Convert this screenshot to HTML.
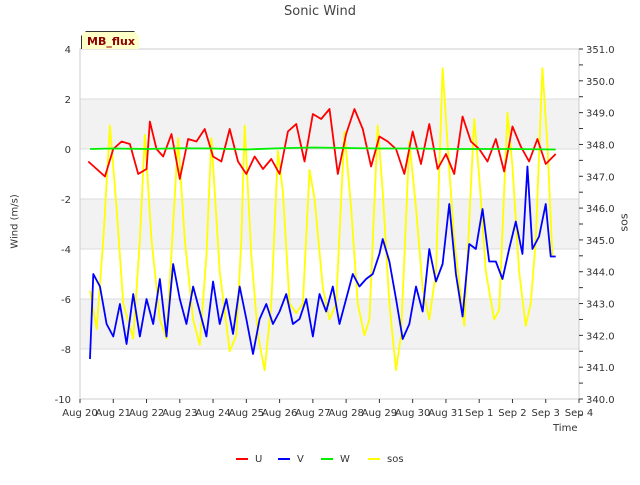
<!DOCTYPE html>
<html><head><meta charset="utf-8"><style>
body{margin:0;background:#fff;font-family:"Liberation Sans",sans-serif}
svg text{font-family:"DejaVu Sans","Liberation Sans",sans-serif}
</style></head><body>
<svg id="c" width="640" height="480" xmlns="http://www.w3.org/2000/svg"></svg>
<script>
const xTickLabels=["Aug 20","Aug 21","Aug 22","Aug 23","Aug 24","Aug 25","Aug 26","Aug 27","Aug 28","Aug 29","Aug 30","Aug 31","Sep 1","Sep 2","Sep 3","Sep 4"];
const yLeftTicks=[4,2,0,-2,-4,-6,-8,-10];
const yRightTicks=[351,350,349,348,347,346,345,344,343,342,341,340];
const uDays=[0.25,0.5,0.75,1.0,1.25,1.5,1.75,2.0,2.1,2.3,2.5,2.75,3.0,3.25,3.5,3.75,4.0,4.25,4.5,4.75,5.0,5.25,5.5,5.75,6.0,6.25,6.5,6.75,7.0,7.25,7.5,7.75,8.0,8.25,8.5,8.75,9.0,9.25,9.5,9.75,10.0,10.25,10.5,10.75,11.0,11.25,11.5,11.75,12.0,12.25,12.5,12.75,13.0,13.25,13.5,13.75,14.0,14.3];
const uValues=[-0.5,-0.8,-1.1,0,0.3,0.2,-1.0,-0.8,1.1,0,-0.3,0.6,-1.2,0.4,0.3,0.8,-0.3,-0.5,0.8,-0.5,-1.0,-0.3,-0.8,-0.4,-1.0,0.7,1.0,-0.5,1.4,1.2,1.6,-1.0,0.6,1.6,0.8,-0.7,0.5,0.3,0,-1.0,0.7,-0.6,1.0,-0.8,-0.2,-1.0,1.3,0.3,0,-0.5,0.4,-0.9,0.9,0.1,-0.5,0.4,-0.6,-0.2];
const vDays=[0.3,0.4,0.6,0.8,1.0,1.2,1.4,1.6,1.8,2.0,2.2,2.4,2.6,2.8,3.0,3.2,3.4,3.6,3.8,4.0,4.2,4.4,4.6,4.8,5.0,5.2,5.4,5.6,5.8,6.0,6.2,6.4,6.6,6.8,7.0,7.2,7.4,7.6,7.8,8.0,8.2,8.4,8.6,8.8,9.0,9.1,9.3,9.5,9.7,9.9,10.1,10.3,10.5,10.7,10.9,11.1,11.3,11.5,11.7,11.9,12.1,12.3,12.5,12.7,12.9,13.1,13.3,13.45,13.6,13.8,14.0,14.15,14.3];
const vValues=[-8.4,-5,-5.5,-7,-7.5,-6.2,-7.8,-5.8,-7.5,-6,-7,-5.2,-7.5,-4.6,-6,-7,-5.5,-6.5,-7.5,-5.3,-7,-6,-7.4,-5.5,-6.8,-8.2,-6.8,-6.2,-7,-6.5,-5.8,-7,-6.8,-6.0,-7.5,-5.8,-6.5,-5.5,-7,-6,-5,-5.5,-5.2,-5.0,-4.2,-3.6,-4.5,-6.0,-7.6,-7.0,-5.5,-6.5,-4.0,-5.3,-4.6,-2.2,-5,-6.7,-3.8,-4,-2.4,-4.5,-4.5,-5.2,-4,-2.9,-4.2,-0.7,-4,-3.5,-2.2,-4.3,-4.3];
const wDays=[0.3,1,2,3,4,5,6,7,8,9,10,11,12,13,14.3];
const wValues=[0.0,0.02,0.0,0.03,0.02,-0.02,0.03,0.06,0.04,0.02,0.02,0.0,0.0,0.0,-0.02];
const sosDays=[0.3,0.5,0.7,0.9,1.1,1.3,1.6,1.8,1.95,2.15,2.4,2.6,2.8,2.95,3.15,3.4,3.6,3.8,3.95,4.2,4.5,4.7,4.85,4.95,5.15,5.35,5.55,5.75,5.95,6.1,6.3,6.5,6.7,6.9,7.05,7.3,7.5,7.7,7.95,8.15,8.35,8.55,8.7,8.95,9.1,9.3,9.5,9.65,9.9,10.1,10.3,10.5,10.7,10.9,11.05,11.25,11.55,11.65,11.85,12.0,12.2,12.45,12.6,12.85,13.0,13.2,13.4,13.55,13.7,13.9,14.05,14.2];
const sosValues=[343.4,342.2,345,348.6,346,343,341.9,345,348.3,345,342.5,341.9,345.5,348.2,345,342.5,341.7,344.5,348.2,344,341.5,342,345,348.6,344.5,342,340.9,343,347.8,346.5,343,342.7,343,347.2,346.3,343.5,342.5,343,348.4,346,343,342,342.5,348.6,346.5,343,340.9,342,348.1,346,343.5,342.5,344,350.4,348,345,342.3,344.5,348.8,347,344,342.5,342.8,349,347.3,344,342.3,343,345,350.4,348,344.5];

const NS="http://www.w3.org/2000/svg";
const svg=document.getElementById('c');
const X0=80,X1=579,YT=49,YB=399;
const xs=d=>X0+(X1-X0)*d/15;
const yl=v=>YT+(4-v)*(YB-YT)/14;
const yr=v=>YT+(351-v)*(YB-YT)/11;
function mk(tag,attrs,parent){const e=document.createElementNS(NS,tag);for(const k in attrs)e.setAttribute(k,attrs[k]);(parent||svg).appendChild(e);return e;}
[[2,0],[-2,-4],[-6,-8]].forEach(b=>{const r=mk('rect',{x:X0,y:yl(b[0]),width:X1-X0,height:yl(b[1])-yl(b[0]),fill:'#f2f2f2'});

});
yLeftTicks.forEach(v=>{const l=mk('line',{x1:X0,x2:X1,y1:yl(v),y2:yl(v),stroke:'#dcdcdc','stroke-width':1});

});
const frame=mk('rect',{x:X0,y:YT,width:X1-X0,height:YB-YT,fill:'none',stroke:'#cccccc'});


yLeftTicks.forEach(v=>{const t=mk('text',{x:X0-9,y:yl(v)+4,'text-anchor':'end','font-size':10,fill:'#333'});t.textContent=v;

});
yRightTicks.forEach(v=>{mk('line',{x1:X1,x2:X1+4,y1:yr(v),y2:yr(v),stroke:'#333'});
const t=mk('text',{x:X1+7,y:yr(v)+4,'font-size':10,fill:'#333'});t.textContent=v.toFixed(1);


mk('line',{x1:X1,x2:X1+4,y1:yr(v-0.5),y2:yr(v-0.5),stroke:'#333'});});
xTickLabels.forEach((s,i)=>{mk('line',{x1:xs(i),x2:xs(i),y1:YB,y2:YB+4,stroke:'#333'});
const t=mk('text',{x:xs(i),y:YB+17,'text-anchor':'middle','font-size':10,fill:'#333'});t.textContent=s;

});
function series(days,vals,yf,color,name){const p=mk('polyline',{points:days.map((d,i)=>xs(d)+','+yf(vals[i])).join(' '),fill:'none',stroke:color,'stroke-width':1.8,'stroke-linejoin':'round'});

}
series(sosDays,sosValues,yr,'#ffff00','sos-line');
series(vDays,vValues,yl,'#0000ff','v-line');
series(uDays,uValues,yl,'#ff0000','u-line');
series(wDays,wValues,yl,'#00ee00','w-line');
</script>
<div style="position:absolute;left:0;top:0;width:640px;height:480px;pointer-events:none">
<div style="position:absolute;top:4px;width:640px;text-align:center;font:13px 'DejaVu Sans',sans-serif;color:#444">Sonic Wind</div>
<div style="position:absolute;left:-15px;top:216px;width:60px;text-align:center;transform:rotate(-90deg);font:10px 'DejaVu Sans',sans-serif;color:#333">Wind (m/s)</div>
<div style="position:absolute;left:604px;top:216px;width:40px;text-align:center;transform:rotate(-90deg);font:11px 'DejaVu Sans',sans-serif;color:#333">sos</div>
<div style="position:absolute;left:553px;top:423px;font:10px 'DejaVu Sans',sans-serif;color:#333">Time</div>
<div style="position:absolute;left:81px;top:31px;width:58px;height:18px;background:#ffffc8;border:1px solid #333;border-bottom:none;clip-path:polygon(5px 0,53px 0,58px 5px,58px 18px,0 18px,0 5px);font:bold 11px 'DejaVu Sans',sans-serif;color:#8b0000;text-align:center;line-height:20px">MB_flux</div>
<div style="position:absolute;top:454px;left:0;width:640px;font:10px 'DejaVu Sans',sans-serif;color:#333">
<span style="position:absolute;left:236px"><span style="display:inline-block;width:12px;height:2px;background:#f00;vertical-align:middle;margin-right:7px"></span>U</span>
<span style="position:absolute;left:278px"><span style="display:inline-block;width:12px;height:2px;background:#00f;vertical-align:middle;margin-right:7px"></span>V</span>
<span style="position:absolute;left:321px"><span style="display:inline-block;width:12px;height:2px;background:#0e0;vertical-align:middle;margin-right:7px"></span>W</span>
<span style="position:absolute;left:368px"><span style="display:inline-block;width:12px;height:2px;background:#ff0;vertical-align:middle;margin-right:7px"></span>sos</span>
</div></div>
</body></html>
